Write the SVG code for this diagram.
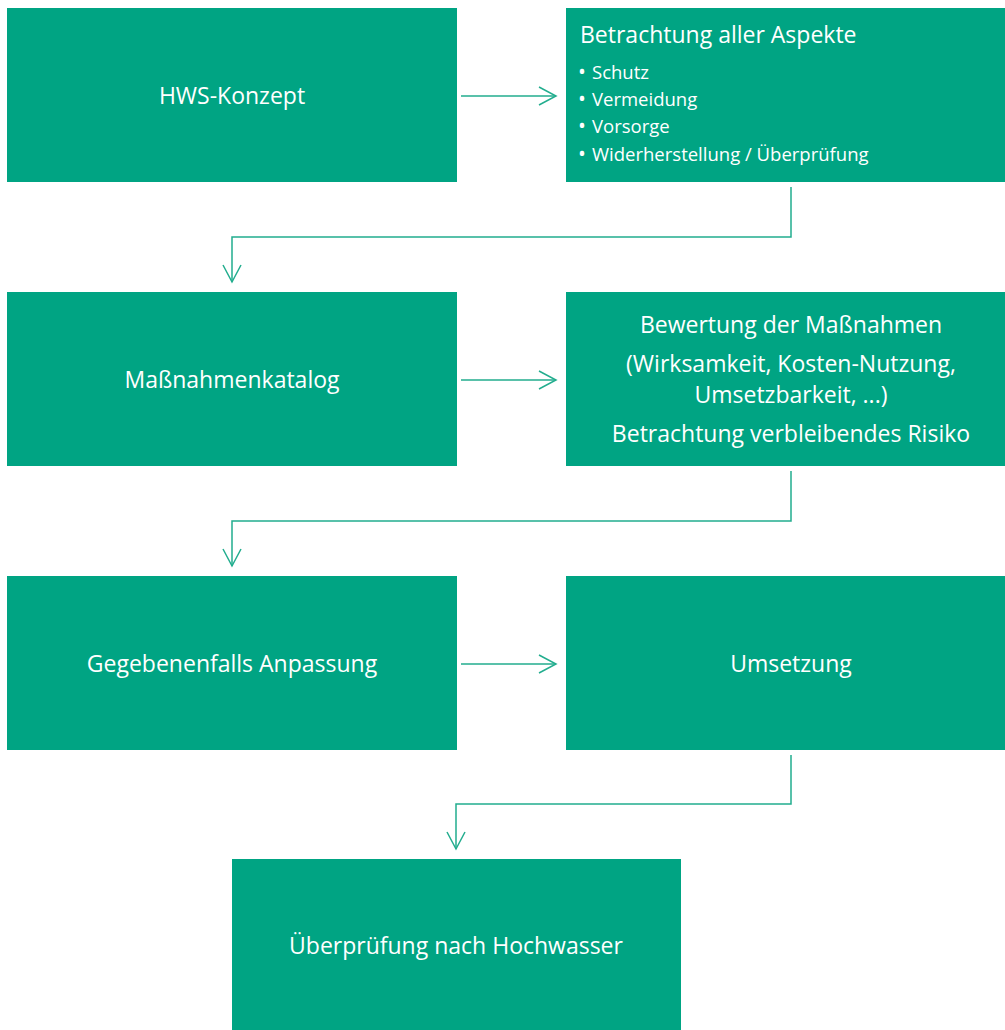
<svg xmlns="http://www.w3.org/2000/svg" width="1005" height="1030" viewBox="0 0 1005 1030">
<defs>
<style>
.box{fill:#00a483}
.t{fill:#fff;font-family:"Open Sans","Noto Sans",sans-serif;font-size:23px}
.c{text-anchor:middle}
.s{font-size:18.5px}
.b{font-size:21px}
.conn{fill:none;stroke:#22ad8e;stroke-width:1.5}
</style>
<marker id="arr" viewBox="0 0 20 20" refX="18" refY="10" markerWidth="20" markerHeight="20" markerUnits="userSpaceOnUse" orient="auto">
<path d="M1,1 L18,10 L1,19" fill="none" stroke="#22ad8e" stroke-width="1.5"/>
</marker>
</defs>
<rect width="1005" height="1030" fill="#fff"/>
<g id="n1"><rect class="box" x="7" y="8" width="450" height="174"/><text class="t c" x="232" y="104">HWS-Konzept</text></g>
<g id="n2"><rect class="box" x="566" y="8" width="439" height="174"/>
<text class="t" x="580" y="43">Betrachtung aller Aspekte</text>
<text class="t s" x="578" y="79"><tspan class="b">•</tspan><tspan x="592">Schutz</tspan></text>
<text class="t s" x="578" y="106"><tspan class="b">•</tspan><tspan x="592">Vermeidung</tspan></text>
<text class="t s" x="578" y="133"><tspan class="b">•</tspan><tspan x="592">Vorsorge</tspan></text>
<text class="t s" x="578" y="161"><tspan class="b">•</tspan><tspan x="592">Widerherstellung / Überprüfung</tspan></text></g>
<g id="n3"><rect class="box" x="7" y="292" width="450" height="174"/><text class="t c" x="232" y="388">Maßnahmenkatalog</text></g>
<g id="n4"><rect class="box" x="566" y="292" width="439" height="174"/>
<text class="t c" x="791" y="333">Bewertung der Maßnahmen</text>
<text class="t c" x="791" y="372">(Wirksamkeit, Kosten-Nutzung,</text>
<text class="t c" x="791" y="403">Umsetzbarkeit, ...)</text>
<text class="t c" x="791" y="442">Betrachtung verbleibendes Risiko</text></g>
<g id="n5"><rect class="box" x="7" y="576" width="450" height="174"/><text class="t c" x="232" y="672">Gegebenenfalls Anpassung</text></g>
<g id="n6"><rect class="box" x="566" y="576" width="439" height="174"/><text class="t c" x="791" y="672">Umsetzung</text></g>
<g id="n7"><rect class="box" x="232" y="859" width="449" height="171"/><text class="t c" x="456" y="954">Überprüfung nach Hochwasser</text></g>
<g id="connectors">
<path class="conn" d="M461,96 H556" marker-end="url(#arr)"/>
<path class="conn" d="M461,380 H556" marker-end="url(#arr)"/>
<path class="conn" d="M461,664 H556" marker-end="url(#arr)"/>
<path class="conn" d="M791,187 V237 H232 V282" marker-end="url(#arr)"/>
<path class="conn" d="M791,471 V521 H232 V566" marker-end="url(#arr)"/>
<path class="conn" d="M791,755 V804 H456 V849" marker-end="url(#arr)"/>
</g>
</svg>
